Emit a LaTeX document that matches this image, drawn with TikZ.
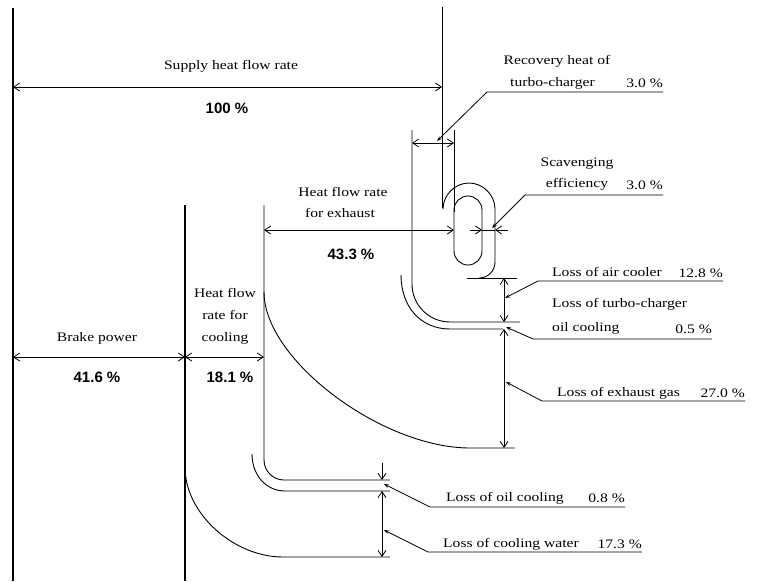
\documentclass[tikz,border=0pt]{standalone}
\usepackage{fontspec}
\setmainfont{Liberation Serif}[FakeStretch=1.2]
\newfontfamily\numfont{Liberation Sans}
\usetikzlibrary{arrows.meta}
\begin{document}
\begin{tikzpicture}[x=1pt,y=-1pt,
  >={Straight Barb[length=6pt,width=8pt]},
  ln/.style={line width=0.9pt},
  thick line/.style={line width=1.2pt},
  dimarrow/.style={line width=0.8pt,<->},
  onearrow/.style={line width=0.8pt,->},
  lead/.style={line width=0.8pt,-{Stealth[length=5pt,width=3.5pt]}},
  lbl/.style={font=\fontsize{13}{15}\selectfont,inner sep=0pt,anchor=base},
  lbll/.style={lbl,anchor=base west},
  lblr/.style={lbl,anchor=base east},
  val/.style={font=\numfont\bfseries\fontsize{15}{17}\selectfont,inner sep=0pt,anchor=base}]
\useasboundingbox (0,0) rectangle (760,581);
\fill[white] (0,0) rectangle (760,581);

% ---- main vertical lines ----
\draw[thick line] (13,8) -- (13,581);
\draw[ln] (442,7) -- (442,208);
\draw[thick line] (185,205) -- (185,581);
\draw[ln] (264,205) -- (264,460) .. controls (264,471) and (273,480) .. (284,480) -- (390,480);
\draw[ln] (252,454) .. controls (252,475) and (266,491) .. (285,491) -- (390,491);
\draw[ln] (264,292) .. controls (264,360) and (382,448) .. (470,448) -- (515,448);
\draw[ln] (185,467) .. controls (185,514) and (234,557) .. (283,557) -- (390,557);

% ---- turbo-charger region ----
\draw[ln] (412,130) -- (412,284) .. controls (412,305) and (429,322) .. (450,322) -- (520,322);
\draw[ln] (401,275) .. controls (401,306) and (420,329) .. (450,329) -- (503,329);
\draw[ln] (454,130) -- (454,212);
\draw[ln,rounded corners=14pt] (454,196) rectangle (482,265);
\draw[ln] (443,209) .. controls (443,195) and (455,183) .. (469,183)
  .. controls (483,183) and (495,195) .. (495,209) -- (495,262)
  .. controls (495,271) and (488,278) .. (479,278);
\draw[ln] (467,278) -- (517,278);

% ---- dimension arrows ----
\coordinate (supL) at (13,87);   \coordinate (supR) at (442,87);
\draw[dimarrow] (supL) -- (supR);
\coordinate (recL) at (412,143); \coordinate (recR) at (454,143);
\draw[dimarrow] (recL) -- (recR);
\coordinate (brkL) at (13,357);  \coordinate (brkR) at (185,357);
\draw[dimarrow] (brkL) -- (brkR);
\coordinate (colR) at (264,357);
\draw[dimarrow] (brkR) -- (colR);
\coordinate (exhL) at (264,230); \coordinate (exhR) at (454,230);
\draw[dimarrow] (exhL) -- (exhR);
\coordinate (scA) at (470,230); \coordinate (scB) at (482,230);
\coordinate (scC) at (495,230); \coordinate (scD) at (508,230);
\draw[onearrow] (scA) -- (scB);
\draw[line width=0.8pt] (scB) -- (scC);
\draw[onearrow] (scD) -- (scC);
\coordinate (acT) at (504,278); \coordinate (acB) at (504,322);
\draw[dimarrow] (acT) -- (acB);
\coordinate (egT) at (504,329); \coordinate (egB) at (504,448);
\draw[dimarrow] (egT) -- (egB);
\coordinate (ocT) at (382,463); \coordinate (ocB) at (382,480);
\draw[onearrow] (ocT) -- (ocB);
\coordinate (cwT) at (382,491); \coordinate (cwB) at (382,557);
\draw[dimarrow] (cwT) -- (cwB);

% ---- left labels ----
\node[lbl] (supply) at (231,69) {Supply heat flow rate};
\node[val] (v100) at (227,113) {100 \%};
\node[lbl] (hfe1) at (343,196) {Heat flow rate};
\node[lbl] (hfe2) at (340,217) {for exhaust};
\node[val] (v433) at (351,259) {43.3 \%};
\node[lbl] (hfc1) at (225,297) {Heat flow};
\node[lbl] (hfc2) at (225,319) {rate for};
\node[lbl] (hfc3) at (225,341) {cooling};
\node[lbl] (brake) at (97,341) {Brake power};
\node[val] (v416) at (97,382) {41.6 \%};
\node[val] (v181) at (230,382) {18.1 \%};

% ---- right labels with leaders ----
\node[lbl] (rec1) at (557,64) {Recovery heat of};
\node[lbll] (rec2) at (510,86) {turbo-charger};
\node[lblr] (rec3) at (663,87) {3.0 \%};
\coordinate (recU1) at (663,92); \coordinate (recU2) at (487,92); \coordinate (recTip) at (437,141);
\draw[lead] (recU1) -- (recU2) -- (recTip);

\node[lbl] (sc1) at (577,166) {Scavenging};
\node[lbl] (sc2) at (577,187) {efficiency};
\node[lblr] (sc3) at (663,189) {3.0 \%};
\coordinate (scU1) at (663,195); \coordinate (scU2) at (525,195); \coordinate (scTip) at (492,228);
\draw[lead] (scU1) -- (scU2) -- (scTip);

\node[lbll] (ac1) at (552,276) {Loss of air cooler};
\node[lblr] (ac2) at (723,277) {12.8 \%};
\coordinate (acU1) at (723,281); \coordinate (acU2) at (538,281); \coordinate (acTip) at (505,298);
\draw[lead] (acU1) -- (acU2) -- (acTip);

\node[lbll] (to1) at (552,307) {Loss of turbo-charger};
\node[lbll] (to2) at (552,331) {oil cooling};
\node[lblr] (to3) at (712,333) {0.5 \%};
\coordinate (toU1) at (712,339); \coordinate (toU2) at (533,339); \coordinate (toTip) at (506,327);
\draw[lead] (toU1) -- (toU2) -- (toTip);

\node[lbll] (eg1) at (557,396) {Loss of exhaust gas};
\node[lblr] (eg2) at (745,397) {27.0 \%};
\coordinate (egU1) at (745,401); \coordinate (egU2) at (542,401); \coordinate (egTip) at (506,382);
\draw[lead] (egU1) -- (egU2) -- (egTip);

\node[lbll] (oc1) at (446,501) {Loss of oil cooling};
\node[lblr] (oc2) at (625,502) {0.8 \%};
\coordinate (ocU1) at (625,507); \coordinate (ocU2) at (430,507); \coordinate (ocTip) at (384,484);
\draw[lead] (ocU1) -- (ocU2) -- (ocTip);

\node[lbll] (cw1) at (443,547) {Loss of cooling water};
\node[lblr] (cw2) at (642,548) {17.3 \%};
\coordinate (cwU1) at (642,552); \coordinate (cwU2) at (428,552); \coordinate (cwTip) at (384,530);
\draw[lead] (cwU1) -- (cwU2) -- (cwTip);
\end{tikzpicture}
\end{document}
